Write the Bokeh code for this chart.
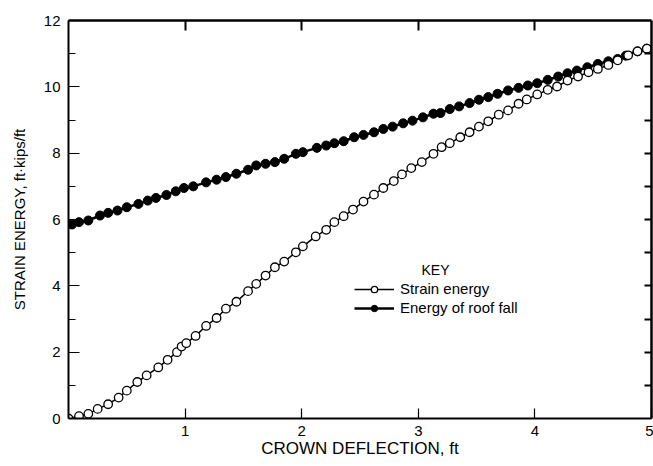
from bokeh.plotting import figure
from bokeh.models import (LinearAxis, FixedTicker, Legend, LegendItem, Label, Range1d,
                          CustomLabelingPolicy)
from bokeh.embed import file_html
from bokeh.resources import INLINE

# Strain energy (open circles)
strain_x = [0.0, 0.09, 0.17, 0.25, 0.34, 0.43, 0.50, 0.59, 0.67, 0.77, 0.85, 0.93, 0.97, 1.01,
            1.09, 1.18, 1.27, 1.35, 1.44, 1.54, 1.61, 1.69, 1.77, 1.85, 1.95, 2.01, 2.12, 2.21,
            2.28, 2.36, 2.44, 2.53, 2.62, 2.70, 2.79, 2.86, 2.94, 3.03, 3.13, 3.20, 3.27, 3.36,
            3.44, 3.52, 3.60, 3.69, 3.77, 3.86, 3.93, 4.02, 4.11, 4.19, 4.28, 4.37, 4.46, 4.54,
            4.63, 4.71, 4.80, 4.88, 4.96]
strain_y = [0.0, 0.07, 0.14, 0.29, 0.43, 0.63, 0.84, 1.10, 1.30, 1.54, 1.77, 2.00, 2.17, 2.27,
            2.49, 2.79, 3.03, 3.31, 3.52, 3.84, 4.06, 4.31, 4.56, 4.73, 5.01, 5.19, 5.49, 5.69,
            5.92, 6.10, 6.30, 6.54, 6.75, 6.95, 7.16, 7.36, 7.55, 7.73, 7.98, 8.18, 8.30, 8.48,
            8.63, 8.80, 8.96, 9.16, 9.29, 9.49, 9.62, 9.77, 9.91, 10.01, 10.19, 10.31, 10.44, 10.54,
            10.66, 10.80, 10.95, 11.07, 11.15]

# Energy of roof fall (filled circles)
roof_x = [0.03, 0.09, 0.17, 0.27, 0.34, 0.42, 0.50, 0.60, 0.68, 0.75, 0.84, 0.92, 0.99, 1.07,
          1.18, 1.27, 1.35, 1.44, 1.54, 1.61, 1.69, 1.77, 1.85, 1.95, 2.01, 2.13, 2.21, 2.28,
          2.36, 2.45, 2.53, 2.62, 2.70, 2.78, 2.87, 2.95, 3.04, 3.13, 3.19, 3.27, 3.35, 3.44,
          3.52, 3.60, 3.68, 3.77, 3.86, 3.94, 4.02, 4.11, 4.20, 4.28, 4.36, 4.45, 4.54, 4.63,
          4.71, 4.78, 4.88, 4.96]
roof_y = [5.85, 5.92, 5.97, 6.12, 6.20, 6.27, 6.37, 6.47, 6.57, 6.65, 6.74, 6.85, 6.95, 7.00,
          7.12, 7.20, 7.28, 7.38, 7.50, 7.63, 7.68, 7.73, 7.83, 7.98, 8.03, 8.16, 8.23, 8.30,
          8.36, 8.48, 8.55, 8.63, 8.73, 8.80, 8.90, 8.98, 9.08, 9.19, 9.21, 9.33, 9.41, 9.51,
          9.61, 9.69, 9.79, 9.89, 9.97, 10.04, 10.11, 10.21, 10.31, 10.41, 10.49, 10.59, 10.69, 10.77,
          10.84, 10.94, 11.07, 11.15]

line_end_x = [5.0]
line_end_y = [11.22]

x_ticks = [1, 2, 3, 4, 5]
y_ticks = [0, 2, 4, 6, 8, 10, 12]
y_minor = [1, 3, 5, 7, 9, 11]
top_ticks = [1, 2, 3, 4]
right_ticks = [1, 2, 3, 4, 5, 6, 7, 8, 9, 10, 11]

FONT = "Liberation Sans"

p = figure(width=653, height=466, output_backend="svg", toolbar_location=None,
           x_range=Range1d(0, 5), y_range=Range1d(0, 12),
           min_border_left=68, min_border_right=2, min_border_top=20, min_border_bottom=48)
p.outline_line_color = None
p.grid.visible = False
p.background_fill_color = "white"
p.border_fill_color = "white"

for ax in (p.xaxis[0], p.yaxis[0]):
    ax.axis_line_width = 2
    ax.axis_line_color = "black"
    ax.major_tick_line_color = "black"
    ax.minor_tick_line_color = "black"
    ax.major_tick_line_width = 1.2
    ax.minor_tick_line_width = 1.2
    ax.major_tick_out = 0
    ax.minor_tick_out = 0
    ax.major_label_text_font = FONT
    ax.major_label_text_font_size = "15px"
    ax.major_label_text_color = "black"
    ax.axis_label_text_font = FONT
    ax.axis_label_text_font_style = "normal"
    ax.axis_label_text_color = "black"

p.xaxis[0].ticker = FixedTicker(ticks=x_ticks)
p.xaxis[0].major_tick_in = 10
p.xaxis[0].minor_tick_in = 0
p.xaxis[0].major_label_standoff = 7
p.xaxis[0].axis_label = "CROWN DEFLECTION, ft"
p.xaxis[0].axis_label_text_font_size = "17px"
p.xaxis[0].axis_label_standoff = 0

p.yaxis[0].ticker = FixedTicker(ticks=y_ticks, minor_ticks=y_minor)
p.yaxis[0].major_tick_in = 11
p.yaxis[0].minor_tick_in = 7
p.yaxis[0].major_label_standoff = 8
p.yaxis[0].axis_label = "STRAIN ENERGY, ft\u00b7kips/ft"
p.yaxis[0].axis_label_text_font_size = "15px"
p.yaxis[0].axis_label_standoff = 13

no_labels = CustomLabelingPolicy(code="""
    const idx = Array.from(indices)
    for (const i of idx) indices.unset(i)
    return indices
""")

top = LinearAxis(ticker=FixedTicker(ticks=top_ticks))
top.axis_line_width = 2.5
top.axis_line_color = "black"
top.major_tick_line_color = "black"
top.major_tick_line_width = 2
top.major_tick_in = 10
top.major_tick_out = 0
top.minor_tick_in = 0
top.minor_tick_out = 0
top.major_label_policy = no_labels
top.major_label_overrides = {t: "" for t in top_ticks}
top.major_label_standoff = 0
p.add_layout(top, "above")

right = LinearAxis(ticker=FixedTicker(ticks=right_ticks))
right.axis_line_width = 2.5
right.axis_line_color = "black"
right.major_tick_line_color = "black"
right.major_tick_line_width = 2
right.major_tick_in = 7
right.major_tick_out = 0
right.minor_tick_in = 0
right.minor_tick_out = 0
right.major_label_policy = no_labels
right.major_label_overrides = {t: "" for t in right_ticks}
right.major_label_standoff = 0
p.add_layout(right, "right")

r_line = p.line(roof_x + line_end_x, roof_y + line_end_y, line_color="black", line_width=2.5)
r_pts = p.scatter(roof_x, roof_y, marker="circle", size=9, fill_color="black",
                  line_color="black", line_width=1)
s_line = p.line(strain_x + line_end_x, strain_y + line_end_y, line_color="black", line_width=1.5)
s_pts = p.scatter(strain_x, strain_y, marker="circle", size=8.5, fill_color="white",
                  line_color="black", line_width=1.3)

legend = Legend(items=[LegendItem(label="Strain energy", renderers=[s_line, s_pts]),
                       LegendItem(label="Energy of roof fall", renderers=[r_line, r_pts])],
                location=(286, 102))
legend.border_line_color = None
legend.background_fill_alpha = 0
legend.glyph_width = 40
legend.glyph_height = 16
legend.label_height = 16
legend.spacing = 2
legend.padding = 0
legend.margin = 0
legend.label_standoff = 6
legend.label_text_font = FONT
legend.label_text_font_size = "15px"
legend.label_text_color = "black"
p.add_layout(legend, "center")

key = Label(x=367, y=141, x_units="screen", y_units="screen", text="KEY",
            text_align="center", text_baseline="bottom", text_font=FONT,
            text_font_size="14px", text_color="black")
p.add_layout(key)

open("out.html", "w").write(file_html(p, INLINE))
